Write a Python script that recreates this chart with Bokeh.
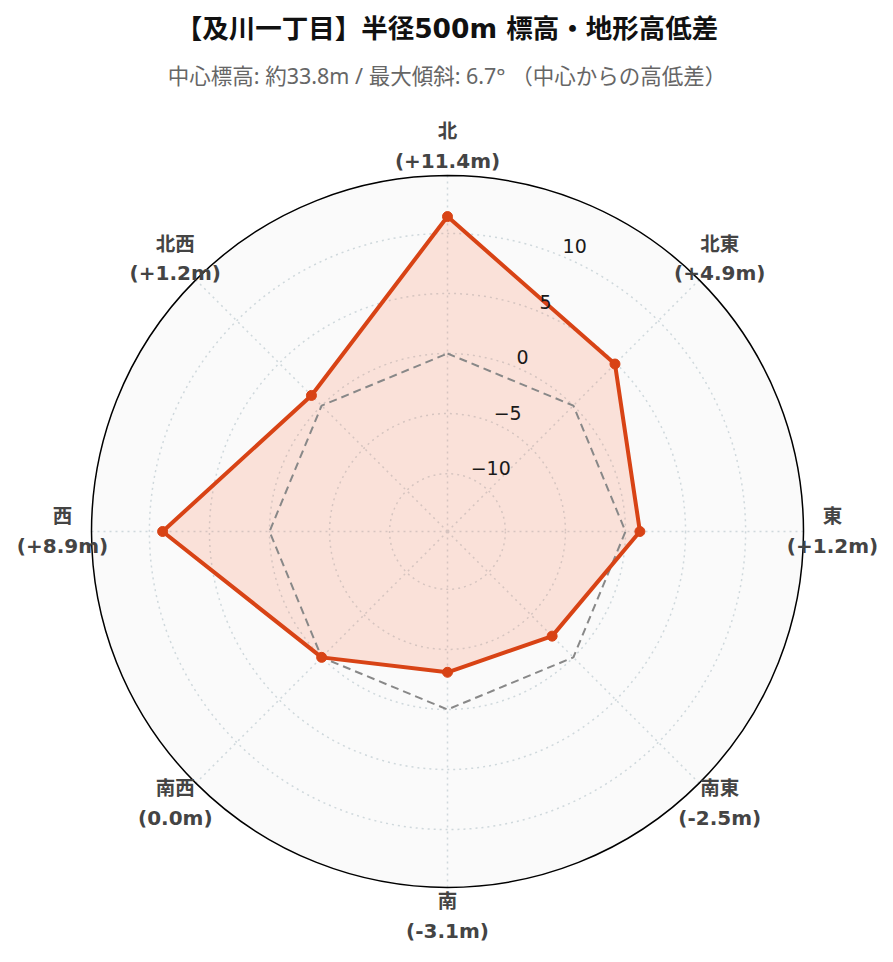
import math
from bokeh.plotting import figure
from bokeh.models import Range1d, ColumnDataSource
from bokeh.core.properties import value
from bokeh.embed import file_html
from bokeh.resources import INLINE

# ---------------- data ----------------
directions = ["北", "北東", "東", "南東", "南", "南西", "西", "北西"]
bearings_deg = [0, 45, 90, 135, 180, 225, 270, 315]
elev_diff = [11.4, 4.9, 1.2, -2.5, -3.1, 0.0, 8.9, 1.2]
reference_level = [0.0, 0.0, 0.0, 0.0, 0.0, 0.0, 0.0, 0.0]
radial_ticks = [-10, -5, 0, 5, 10]
radial_tick_labels = ["−10", "−5", "0", "5", "10"]
radial_range = [-14.82, 14.82]
title_text = "【及川一丁目】半径500m 標高・地形高低差"
subtitle_text = "中心標高: 約33.8m / 最大傾斜: 6.7° （中心からの高低差）"

# ---------------- geometry ----------------
W, H = 885, 954
R_PX = 356.0
span = radial_range[1] - radial_range[0]
k = R_PX / span            # pixels per data unit
CX, CY = 447.0, 531.0      # polar centre inside the frame (px)

def rad(v):
    return v - radial_range[0]

def polar(v, bearing):
    r = rad(v)
    b = math.radians(bearing)
    return r * math.sin(b), r * math.cos(b)

SANS = value("'DejaVu Sans', 'Noto Sans CJK JP'")
SUB = value("'Noto Sans', 'Noto Sans CJK JP'")

p = figure(width=W, height=H, output_backend="svg", toolbar_location=None,
           x_range=Range1d(-CX / k, (W - CX) / k),
           y_range=Range1d(-(H - CY) / k, CY / k),
           x_axis_location=None, y_axis_location=None,
           min_border=0, background_fill_color="white",
           border_fill_color="white", outline_line_color=None)
p.grid.visible = False

# polar background
p.circle(x=[0], y=[0], radius=span, fill_color="#fafafa", line_color=None)

# grid circles
p.circle(x=[0] * len(radial_ticks), y=[0] * len(radial_ticks),
         radius=[rad(t) for t in radial_ticks], fill_color=None,
         line_color="#cfd8dc", line_width=1.5, line_dash="2 4")

# spokes
sx = [polar(radial_range[1], b)[0] for b in bearings_deg]
sy = [polar(radial_range[1], b)[1] for b in bearings_deg]
p.segment(x0=[0] * len(sx), y0=[0] * len(sy), x1=sx, y1=sy,
          line_color="#cfd8dc", line_width=1.5, line_dash="2 4")

# data polygon
pts = [polar(v, b) for v, b in zip(elev_diff, bearings_deg)]
px_ = [q[0] for q in pts]
py_ = [q[1] for q in pts]
p.patch(px_, py_, fill_color="#ff5722", fill_alpha=0.15, line_color=None)

# reference (0 m) polygon
ref = [polar(v, b) for v, b in zip(reference_level, bearings_deg)]
p.line([q[0] for q in ref] + [ref[0][0]], [q[1] for q in ref] + [ref[0][1]],
       line_color="#888888", line_width=2, line_dash="8 5")

# data line and markers
p.line(px_ + [px_[0]], py_ + [py_[0]], line_color="#d84315", line_width=4,
       line_join="round")
p.scatter(px_, py_, size=10, fill_color="#d84315", line_color="#d84315")

# outer circle
p.circle(x=[0], y=[0], radius=span, fill_color=None, line_color="black",
         line_width=1.5)

# radial tick labels
tick_src = ColumnDataSource(dict(
    x=[polar(t, 22.5)[0] for t in radial_ticks],
    y=[polar(t, 22.5)[1] for t in radial_ticks],
    t=radial_tick_labels))
p.text(x="x", y="y", text="t", source=tick_src, text_font=value("DejaVu Sans"),
       text_font_size="19px", text_color="#1a1a1a", text_align="left",
       text_baseline="middle", x_offset=1, y_offset=-10)

# angular labels
LAB_R = 385.0 / k
lx = [LAB_R * math.sin(math.radians(b)) for b in bearings_deg]
ly = [LAB_R * math.cos(math.radians(b)) for b in bearings_deg]
vals = ["(" + ("+" if d > 0 else "") + f"{d:.1f}m)" for d in elev_diff]
lab_src = ColumnDataSource(dict(x=lx, y=ly, name=directions, val=vals))
p.text(x="x", y="y", text="name", source=lab_src, text_font=SANS,
       text_font_size="19.5px", text_font_style="bold", text_color="#444444",
       text_align="center", text_baseline="middle", y_offset=-15)
p.text(x="x", y="y", text="val", source=lab_src, text_font=SANS,
       text_font_size="20px", text_font_style="bold", text_color="#444444",
       text_align="center", text_baseline="middle", y_offset=14)

# title and subtitle
p.text(x=[-0.5 / k], y=[(531 - 28) / k], text=[title_text],
       text_font=SANS, text_font_size="26.5px", text_font_style="bold",
       text_color="#111111", text_align="center", text_baseline="middle")
p.text(x=[-0.5 / k], y=[(531 - 75) / k], text=[subtitle_text],
       text_font=SUB, text_font_size="21.5px", text_color="#666666",
       text_align="center", text_baseline="middle")

open("out.html", "w").write(file_html(p, INLINE))
